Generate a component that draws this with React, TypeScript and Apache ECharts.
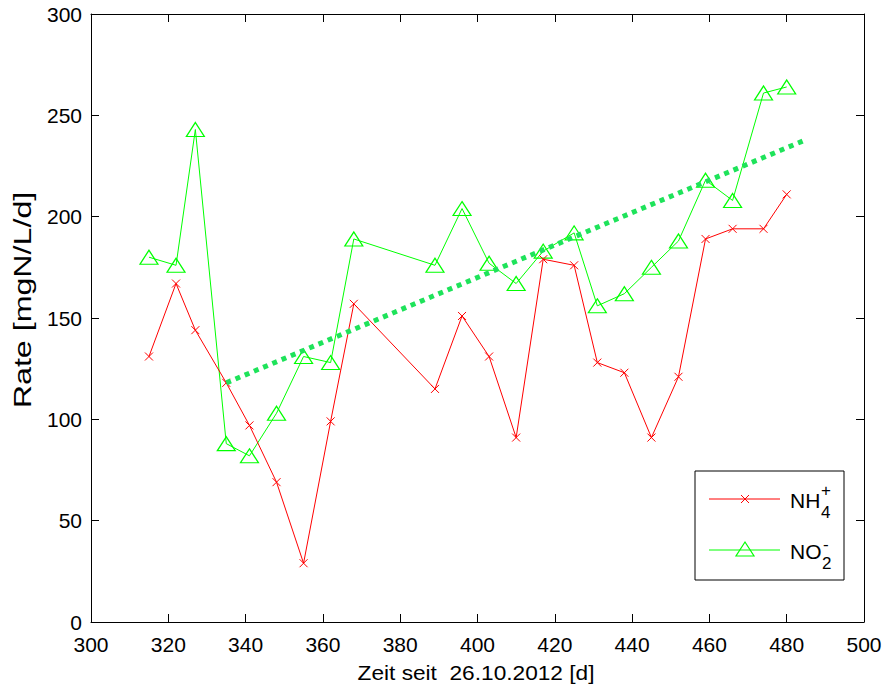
import React, { useEffect, useRef } from "react";
import * as echarts from "echarts";

const xDays = [315, 322, 327, 335, 341, 348, 355, 362, 368, 389, 396, 403, 410, 417, 425, 431, 438, 445, 452, 459, 466, 474, 480];
const nh4 = [131, 167, 144, 118, 97, 69, 29, 99, 157, 115, 151, 131, 91, 179, 176, 128, 123, 91, 121, 189, 194, 194, 211];
const no2 = [180, 176, 243, 88, 82, 103, 131, 128, 189, 176, 204, 177, 167, 183, 192, 156, 162, 175, 188, 218, 208, 261, 264];
const trendX = [335, 485];
const trendY = [118, 238];

const xTicks = { min: 300, max: 500, step: 20 };
const yTicks = { min: 0, max: 300, step: 50 };

const FONT = "'Liberation Sans', Arial, sans-serif";
const RED = "#ff0000";
const GREEN = "#00ff00";
const TREND = "#1ee35a";

export default function App() {
  const ref = useRef<HTMLDivElement>(null);
  useEffect(() => {
    if (!ref.current) return;
    const chart = echarts.init(ref.current, null, { renderer: "svg" });
    const axisLine = { show: true, onZero: false, lineStyle: { color: "#000", width: 1 } };
    const tick = { show: true, inside: true, length: 8, lineStyle: { color: "#000", width: 1 } };
    const label = { color: "#000", fontSize: 21, fontFamily: FONT };
    chart.setOption({
      animation: false,
      backgroundColor: "#fff",
      grid: { left: 91, right: 22, top: 14, bottom: 64, containLabel: false },
      xAxis: [
        {
          type: "value", min: xTicks.min, max: xTicks.max, interval: xTicks.step, position: "bottom",
          axisLine, axisTick: tick, axisLabel: { ...label, margin: 12 }, splitLine: { show: false },
        },
        {
          type: "value", min: xTicks.min, max: xTicks.max, interval: xTicks.step, position: "top",
          axisLine, axisTick: tick, axisLabel: { show: false }, splitLine: { show: false },
        },
      ],
      yAxis: [
        {
          type: "value", min: yTicks.min, max: yTicks.max, interval: yTicks.step, position: "left",
          axisLine, axisTick: tick, axisLabel: { ...label, margin: 9 }, splitLine: { show: false },
        },
        {
          type: "value", min: yTicks.min, max: yTicks.max, interval: yTicks.step, position: "right",
          axisLine, axisTick: tick, axisLabel: { show: false }, splitLine: { show: false },
        },
      ],
      series: [
        {
          name: "NH4+", type: "line",
          data: xDays.map((x, i) => [x, nh4[i]]),
          symbol: "path://M0,0L8,8M8,0L0,8",
          symbolSize: 8,
          itemStyle: { color: RED, borderColor: RED, borderWidth: 1 },
          lineStyle: { color: RED, width: 1 },
          z: 3,
        },
        {
          name: "NO2-", type: "line",
          data: xDays.map((x, i) => [x, no2[i]]),
          symbol: "triangle",
          symbolSize: [18, 14],
          itemStyle: { color: "rgba(0,0,0,0)", borderColor: GREEN, borderWidth: 1.2 },
          lineStyle: { color: GREEN, width: 1 },
          z: 2,
        },
        {
          name: "trend", type: "line",
          data: trendX.map((x, i) => [x, trendY[i]]),
          symbol: "none",
          lineStyle: { color: TREND, width: 5, type: [5, 5], cap: "butt" },
          z: 4,
        },
      ],
      graphic: [
        {
          type: "text", x: 476, y: 673,
          style: { text: "Zeit seit  26.10.2012 [d]", font: `21px ${FONT}`, fill: "#000", textAlign: "center", textVerticalAlign: "middle" },
          scaleX: 1.08,
        },
        {
          type: "text", x: 23, y: 300, rotation: Math.PI / 2,
          style: { text: "Rate [mgN/L/d]", font: `23px ${FONT}`, fill: "#000", textAlign: "center", textVerticalAlign: "middle" },
          scaleX: 1.4,
        },
        {
          type: "rect", shape: { x: 695, y: 471, width: 149, height: 109 },
          style: { fill: "#fff", stroke: "#000", lineWidth: 1 }, z: 10,
        },
        { type: "line", shape: { x1: 709, y1: 499, x2: 780, y2: 499 }, style: { stroke: RED, lineWidth: 1 }, z: 11 },
        { type: "line", shape: { x1: 741, y1: 495, x2: 749, y2: 503 }, style: { stroke: RED, lineWidth: 1 }, z: 11 },
        { type: "line", shape: { x1: 749, y1: 495, x2: 741, y2: 503 }, style: { stroke: RED, lineWidth: 1 }, z: 11 },
        { type: "line", shape: { x1: 709, y1: 550, x2: 780, y2: 550 }, style: { stroke: GREEN, lineWidth: 1 }, z: 11 },
        {
          type: "polygon", shape: { points: [[736, 556], [754, 556], [745, 542]] },
          style: { fill: "none", stroke: GREEN, lineWidth: 1.2 }, z: 11,
        },
        { type: "text", x: 790, y: 500, style: { text: "NH", font: `21px ${FONT}`, fill: "#000", textVerticalAlign: "middle" }, z: 11 },
        { type: "text", x: 821, y: 512, style: { text: "4", font: `17px ${FONT}`, fill: "#000", textVerticalAlign: "middle" }, z: 11 },
        { type: "text", x: 821, y: 490, style: { text: "+", font: `17px ${FONT}`, fill: "#000", textVerticalAlign: "middle" }, z: 11 },
        { type: "text", x: 790, y: 551, style: { text: "NO", font: `21px ${FONT}`, fill: "#000", textVerticalAlign: "middle" }, z: 11 },
        { type: "text", x: 823, y: 544, style: { text: "-", font: `17px ${FONT}`, fill: "#000", textVerticalAlign: "middle" }, z: 11 },
        { type: "text", x: 822, y: 563, style: { text: "2", font: `17px ${FONT}`, fill: "#000", textVerticalAlign: "middle" }, z: 11 },
      ],
    });
    return () => chart.dispose();
  }, []);
  return <div ref={ref} style={{ width: 886, height: 686, position: "absolute", left: 0, top: 0 }} />;
}
